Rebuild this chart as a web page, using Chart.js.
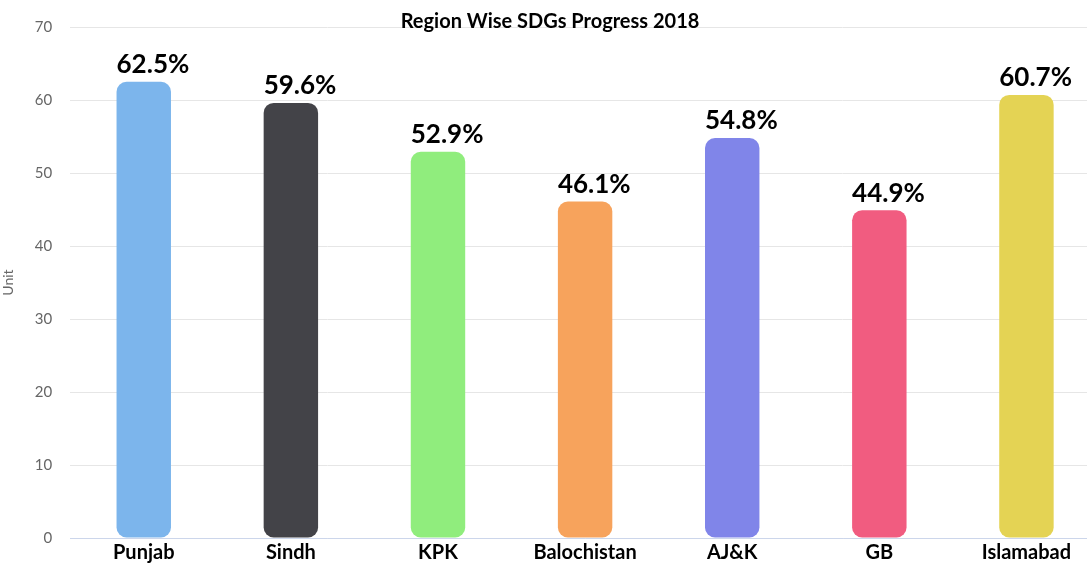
<!DOCTYPE html>
<html>
<head>
<meta charset="utf-8">
<script src="https://cdn.jsdelivr.net/npm/chart.js@4"></script>
<style>
  html, body { margin: 0; padding: 0; background: #fff; overflow: hidden; }
</style>
</head>
<body>
<canvas id="sdgChart" width="1100" height="568"></canvas>
<script>
const regions = ['Punjab', 'Sindh', 'KPK', 'Balochistan', 'AJ&K', 'GB', 'Islamabad'];
const progress = [62.5, 59.6, 52.9, 46.1, 54.8, 44.9, 60.7];
const barColors = ['#7cb5ec', '#434348', '#90ed7d', '#f7a35c', '#8085e9', '#f15c80', '#e4d354'];
const yTicks = [0, 10, 20, 30, 40, 50, 60, 70];

// draws the "62.5%" labels above each bar, starting at the bar's left edge
const valueLabels = {
    id: 'valueLabels',
    afterDatasetsDraw(chart) {
        const ctx = chart.ctx;
        const meta = chart.getDatasetMeta(0);
        ctx.save();
        ctx.font = 'bold 26px Lato';
        ctx.fillStyle = '#000';
        ctx.textAlign = 'left';
        ctx.textBaseline = 'bottom';
        meta.data.forEach((bar, i) => {
            ctx.fillText(progress[i].toFixed(1) + '%', bar.x - bar.width / 2, bar.y - 4);
        });
        ctx.restore();
    }
};

const ctx = document.getElementById('sdgChart').getContext('2d');
new Chart(ctx, {
    type: 'bar',
    data: {
        labels: regions,
        datasets: [{
            data: progress,
            backgroundColor: barColors,
            borderRadius: 10,
            borderSkipped: false,
            barPercentage: 0.37,
            categoryPercentage: 1
        }]
    },
    options: {
        responsive: false,
        animation: false,
        plugins: {
            legend: { display: false },
            tooltip: { enabled: false },
            title: {
                display: true,
                text: 'Region Wise SDGs Progress 2018',
                color: '#000',
                font: { family: 'Lato', size: 20, weight: 'bold' },
                padding: { top: 1, bottom: -7 }
            }
        },
        scales: {
            x: {
                grid: { display: false, drawTicks: false },
                border: { display: true, color: '#ccd6eb', width: 1 },
                ticks: {
                    color: '#000',
                    padding: 3,
                    font: { family: 'Lato', size: 20, weight: 'bold' }
                }
            },
            y: {
                min: 0,
                max: 70,
                afterBuildTicks(axis) {
                    axis.ticks = yTicks.map(v => ({ value: v }));
                },
                grid: { color: '#e6e6e6', drawTicks: false },
                border: { display: false },
                ticks: {
                    color: '#666666',
                    padding: 18,
                    font: { family: 'Lato', size: 15 }
                },
                title: {
                    display: true,
                    text: 'Unit',
                    color: '#666666',
                    font: { family: 'Lato', size: 14 },
                    padding: { top: 0, bottom: 0 }
                }
            }
        }
    },
    plugins: [valueLabels]
});
</script>
</body>
</html>
